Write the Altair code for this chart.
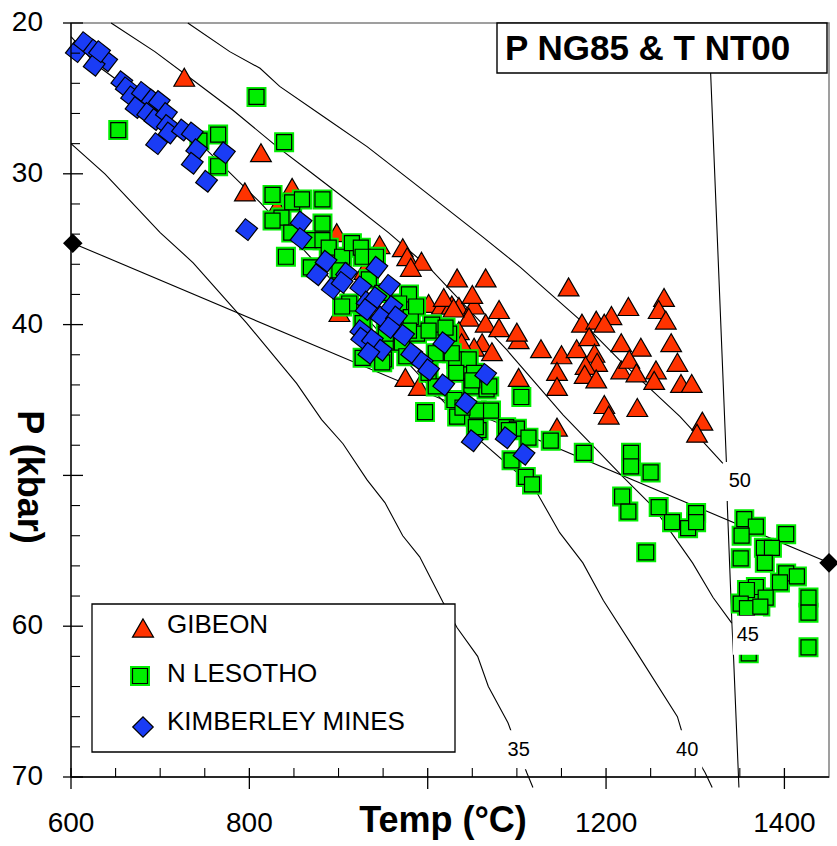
import altair as alt
import pandas as pd

FONT = "Liberation Sans"

# ---------------- data ----------------
gibeon_T = [727, 813, 795, 848, 831, 898, 946, 972, 977, 993, 981, 929, 901, 1001, 1016, 1027,
            1035, 1052, 1046, 1065, 1080, 1080, 1061, 1052, 1072, 1102, 1035, 975, 990, 1102,
            1033, 1065, 1158, 1018, 1050, 1029, 1100, 1127, 1150, 1167, 1173, 1189, 1206, 1198,
            1181, 1187, 1190, 1177, 1217, 1145, 1145, 1176, 1189, 1217, 1145, 1198, 1203, 1225,
            1265, 1259, 1267, 1239, 1226, 1256, 1254, 1273, 1280, 1284, 1296, 1234, 1235, 1308,
            1302, 941, 1038]
gibeon_P = [23.6, 28.6, 31.2, 30.9, 32.2, 33.9, 34.7, 34.9, 35.5, 35.8, 36.2, 36.4, 39.2, 38.6,
            38.7, 38.7, 38.8, 38.7, 39.5, 39.9, 39.0, 40.2, 41.2, 41.5, 41.8, 41.0, 40.4, 43.5,
            44.1, 43.5, 36.9, 36.9, 37.5, 38.2, 38.0, 38.9, 40.5, 41.6, 42.0, 41.6, 39.9, 39.7,
            39.4, 39.9, 40.8, 41.9, 42.5, 42.7, 41.2, 43.1, 44.1, 43.3, 43.6, 43.0, 46.8, 45.3,
            46.0, 38.8, 38.2, 39.0, 39.7, 41.5, 42.3, 43.0, 43.7, 41.2, 42.5, 43.9, 43.9, 43.2,
            45.5, 46.4, 47.2, 41.1, 41.2]

lesotho_T = [653, 744, 765, 765, 808, 839, 826, 848, 859, 882, 836, 826, 847, 867, 882, 882, 841,
             869, 889, 904, 915, 925, 927, 942, 901, 912, 904, 934, 949, 979, 968, 981, 988, 971,
             953, 951, 927, 927, 953, 949, 976, 979, 987, 1005, 1024, 1009, 1032, 1046, 1052, 1001,
             1009, 1032, 1049, 1066, 1030, 1033, 1055, 1071, 997, 1057, 1088, 1100, 1105, 1094,
             1110, 1001, 1020, 1027, 1050, 1069, 1039, 1054, 1091, 1138, 1175, 1228, 1228, 1250,
             1218, 1225, 1259, 1274, 1292, 1301, 1301, 1245, 1117, 1113, 1355, 1368, 1352, 1351,
             1402, 1377, 1386, 1378, 1402, 1414, 1395, 1368, 1358, 1379, 1351, 1358, 1373, 1427,
             1427, 1427, 1360]
lesotho_P = [27.1, 27.8, 27.4, 29.5, 24.9, 27.9, 31.4, 31.9, 31.7, 31.7, 32.9, 33.1, 33.9, 34.4,
             33.3, 34.4, 35.5, 36.2, 34.9, 35.5, 34.6, 34.9, 35.5, 35.5, 36.4, 38.6, 38.8, 37.0,
             37.9, 38.0, 38.6, 39.5, 40.6, 41.2, 41.2, 42.3, 42.2, 39.9, 40.6, 42.5, 42.1, 40.4,
             38.8, 40.0, 40.6, 41.9, 42.3, 42.3, 43.2, 43.2, 44.1, 43.2, 44.1, 44.3, 45.0, 46.1,
             45.7, 45.7, 45.8, 47.0, 46.8, 46.9, 44.8, 49.0, 50.1, 40.4, 40.2, 41.9, 43.7, 44.1,
             45.5, 46.8, 47.0, 47.7, 48.5, 48.5, 49.4, 49.8, 51.4, 52.4, 52.1, 53.1, 53.5, 52.5,
             53.1, 55.1, 50.6, 47.5, 52.9, 53.4, 54.0, 55.5, 53.9, 54.8, 54.8, 55.8, 56.5, 56.7,
             57.1, 57.4, 57.6, 58.1, 58.5, 58.8, 58.7, 58.1, 59.1, 61.4, 61.8]

kimberley_T = [606, 615, 626, 640, 626, 632, 657, 662, 668, 680, 673, 691, 699, 686, 694, 707,
               708, 710, 696, 725, 736, 741, 736, 752, 772, 797, 858, 858, 886, 876, 909, 893,
               904, 925, 943, 957, 932, 942, 948, 931, 960, 965, 957, 973, 925, 926, 938, 948,
               934, 982, 994, 1001, 1018, 1018, 1065, 1043, 1050, 1088, 1108]
kimberley_P = [21.9, 21.3, 21.8, 22.5, 22.8, 21.9, 23.9, 24.3, 24.9, 24.6, 25.6, 25.1, 25.2, 26.0,
               26.4, 26.0, 26.8, 27.3, 28.0, 27.1, 27.3, 28.4, 29.3, 30.5, 28.6, 33.7, 33.2, 34.3,
               35.8, 36.7, 36.6, 37.6, 37.2, 37.5, 36.2, 37.4, 38.5, 38.2, 39.5, 39.0, 38.8, 39.5,
               40.2, 40.7, 40.4, 40.9, 41.0, 41.7, 41.9, 41.9, 42.5, 43.0, 41.2, 44.0, 43.3, 45.2,
               47.7, 47.5, 48.6]

# isopleths and reference lines
iso50_T = [731, 778, 812, 834, 883, 932, 980, 1062, 1104, 1171, 1216, 1283, 1331]
iso50_P = [20.0, 21.9, 23.0, 24.2, 26.2, 28.2, 30.4, 34.2, 36.2, 39.7, 42.4, 46.1, 49.2]
iso45_T = [645, 694, 737, 782, 831, 871, 913, 956, 1003, 1089, 1152, 1219, 1253, 1297, 1320, 1341]
iso45_P = [20.0, 21.9, 23.8, 25.8, 28.2, 30.0, 31.9, 33.9, 36.3, 41.7, 46.0, 50.1, 52.1, 55.8, 58.1, 59.8]
iso40_T = [600, 629, 689, 745, 812, 1055, 1100, 1123, 1148, 1174, 1197, 1235, 1280, 1286, 1311, 1319]
iso40_P = [20.9, 22.8, 25.4, 28.0, 31.9, 47.5, 49.8, 51.2, 53.8, 55.8, 58.3, 61.8, 66.0, 67.2, 69.7, 70.7]
iso35_T = [600, 638, 700, 737, 797, 853, 881, 905, 932, 952, 972, 991, 1017, 1033, 1056, 1068,
           1090, 1095, 1111, 1118]
iso35_P = [28.0, 30.0, 33.9, 35.9, 39.9, 43.9, 46.3, 47.9, 50.3, 51.8, 54.0, 55.4, 58.4, 60.1,
           62.0, 64.0, 66.4, 67.2, 69.7, 70.7]
vert_T = [1315, 1335, 1336, 1341, 1343, 1349]
vert_P = [20.0, 49.2, 52.0, 59.6, 62.1, 70.7]
tie_T = [602, 1450]
tie_P = [34.6, 55.8]

iso_label_text = ["50", "45", "35", "40"]
iso_label_T = [1350, 1359, 1102, 1291]
iso_label_P = [50.4, 60.6, 68.2, 68.2]

x_major = [600, 800, 1000, 1200, 1400]
x_major_labels = ["600", "800", "", "1200", "1400"]   # 1000 is hidden under the axis title
x_minor = [650, 700, 750, 850, 900, 950, 1050, 1100, 1150, 1250, 1300, 1350]
y_major = [20, 30, 40, 50, 60, 70]
y_major_labels = ["20", "30", "40", "", "60", "70"]    # 50 is hidden under the axis title
y_minor = [22, 24, 26, 28, 32, 34, 36, 38, 42, 44, 46, 48, 52, 54, 56, 58, 62, 64, 66, 68]

legend_labels = ["GIBEON", "N LESOTHO", "KIMBERLEY MINES"]
title_text = "P NG85 & T NT00"
x_title = "Temp (°C)"
y_title = "P (kbar)"

# ---------------- colours / styles ----------------
RED = "#ff3300"
GREEN = "#00ee00"
BLUE = "#1a3cf5"
W, H = 758, 754

XS = alt.Scale(domain=[600, 1450], nice=False, zero=False)
YS = alt.Scale(domain=[20, 70], reverse=True, nice=False, zero=False)


def xq(field="T"):
    return alt.X(f"{field}:Q", scale=XS, axis=None)


def yq(field="P"):
    return alt.Y(f"{field}:Q", scale=YS, axis=None)


# line table
rows = []
for name, (ts, ps) in {"50": (iso50_T, iso50_P), "45": (iso45_T, iso45_P),
                       "40": (iso40_T, iso40_P), "35": (iso35_T, iso35_P),
                       "v": (vert_T, vert_P), "tie": (tie_T, tie_P)}.items():
    for i, (t, p) in enumerate(zip(ts, ps)):
        rows.append({"T": t, "P": p, "line": name, "ord": i})
lines_df = pd.DataFrame(rows)

gib = pd.DataFrame({"T": gibeon_T, "P": gibeon_P})
les = pd.DataFrame({"T": lesotho_T, "P": lesotho_P})
kim = pd.DataFrame({"T": kimberley_T, "P": kimberley_P})
tie = pd.DataFrame({"T": tie_T, "P": tie_P})
labs = pd.DataFrame({"T": iso_label_T, "P": iso_label_P, "txt": iso_label_text})

lines = alt.Chart(lines_df).mark_line(color="black", strokeWidth=1.1).encode(
    x=xq(), y=yq(), detail="line:N", order="ord:Q")

tie_pts = alt.Chart(tie).mark_point(shape="diamond", filled=True, fill="black",
                                    stroke="black", size=280, opacity=1).encode(x=xq(), y=yq())

tri = alt.Chart(gib).mark_point(shape="triangle-up", filled=True, fill=RED, stroke="black",
                                strokeWidth=1.2, size=430, opacity=1).encode(x=xq(), y=yq())

sqA = alt.Chart(les).mark_point(shape="square", filled=True, fill=GREEN, stroke=GREEN,
                                strokeWidth=4, size=256, opacity=1).encode(x=xq(), y=yq())
sqB = alt.Chart(les).mark_point(shape="square", filled=True, fill=GREEN, stroke="black",
                                strokeWidth=1.2, size=225, opacity=1).encode(x=xq(), y=yq())

dia = alt.Chart(kim).mark_point(shape="square", angle=38, filled=True, fill=BLUE,
                                stroke="black", strokeWidth=1.2, size=240,
                                opacity=1).encode(x=xq(), y=yq())

lab_bg = alt.Chart(labs).mark_point(shape="M-1,-1.3L1,-1.3L1,1.3L-1,1.3Z", filled=True,
                                    fill="white", stroke="white", strokeWidth=0, size=900,
                                    opacity=1).encode(x=xq(), y=yq())
lab_txt = alt.Chart(labs).mark_text(font=FONT, fontSize=20, color="black", align="center",
                                    baseline="middle").encode(x=xq(), y=yq(), text="txt:N")

one = pd.DataFrame({"a": [0]})

# axes drawn by hand: domain lines, ticks, labels, titles
ax_left = alt.Chart(one).mark_rule(color="black", strokeWidth=1.3).encode(
    x=alt.value(0), y=alt.value(0), y2=alt.value(H))
ax_bottom = alt.Chart(one).mark_rule(color="black", strokeWidth=1.3).encode(
    x=alt.value(0), x2=alt.value(W), y=alt.value(H))
ymaj = alt.Chart(pd.DataFrame({"v": y_major})).mark_rule(color="black", strokeWidth=1.3).encode(
    y=yq("v"), x=alt.value(-8), x2=alt.value(12))
ymin = alt.Chart(pd.DataFrame({"v": y_minor})).mark_rule(color="black", strokeWidth=1.1).encode(
    y=yq("v"), x=alt.value(0), x2=alt.value(9))
xmaj = alt.Chart(pd.DataFrame({"v": x_major})).mark_rule(color="black", strokeWidth=1.3).encode(
    x=xq("v"), y=alt.value(H - 9), y2=alt.value(H + 12))
xmin = alt.Chart(pd.DataFrame({"v": x_minor})).mark_rule(color="black", strokeWidth=1.1).encode(
    x=xq("v"), y=alt.value(H - 9), y2=alt.value(H))
ylab = alt.Chart(pd.DataFrame({"v": y_major, "t": y_major_labels})).mark_text(
    font=FONT, fontSize=28, color="black", align="right", baseline="middle").encode(
    y=yq("v"), x=alt.value(-28), text="t:N")
xlab = alt.Chart(pd.DataFrame({"v": x_major, "t": x_major_labels})).mark_text(
    font=FONT, fontSize=28, color="black", align="center", baseline="alphabetic").encode(
    x=xq("v"), y=alt.value(H + 55), text="t:N")
xtit = alt.Chart(one).mark_text(font=FONT, fontSize=36, fontWeight="bold", color="black",
                                align="center", baseline="alphabetic", text=x_title).encode(
    x=alt.value(372), y=alt.value(H + 55))
ytit = alt.Chart(one).mark_text(font=FONT, fontSize=36, fontWeight="bold", color="black",
                                align="center", baseline="alphabetic", angle=90,
                                text=y_title).encode(x=alt.value(-53), y=alt.value(454))

# legend
leg_box = alt.Chart(one).mark_rect(fill="white", stroke="black", strokeWidth=1.3).encode(
    x=alt.value(21), x2=alt.value(384), y=alt.value(581), y2=alt.value(729))
leg_layers = [leg_box]
sym_y = [605, 653, 704]
sym_x = [72, 69, 72]
txt_y = [610, 659, 707]
leg_layers.append(alt.Chart(one).mark_point(shape="triangle-up", filled=True, fill=RED,
                                            stroke="black", strokeWidth=1.2, size=440,
                                            opacity=1).encode(x=alt.value(sym_x[0]), y=alt.value(sym_y[0])))
leg_layers.append(alt.Chart(one).mark_point(shape="square", filled=True, fill=GREEN,
                                            stroke=GREEN, strokeWidth=4, size=256,
                                            opacity=1).encode(x=alt.value(sym_x[1]), y=alt.value(sym_y[1])))
leg_layers.append(alt.Chart(one).mark_point(shape="square", filled=True, fill=GREEN,
                                            stroke="black", strokeWidth=1.2, size=225,
                                            opacity=1).encode(x=alt.value(sym_x[1]), y=alt.value(sym_y[1])))
leg_layers.append(alt.Chart(one).mark_point(shape="diamond", filled=True, fill=BLUE,
                                            stroke="black", strokeWidth=1.2, size=420,
                                            opacity=1).encode(x=alt.value(sym_x[2]), y=alt.value(sym_y[2])))
for lab, ty in zip(legend_labels, txt_y):
    leg_layers.append(alt.Chart(one).mark_text(font=FONT, fontSize=26, color="black",
                                               align="left", baseline="alphabetic",
                                               text=lab).encode(x=alt.value(96), y=alt.value(ty)))

# title box
title_box = alt.Chart(one).mark_rect(fill="white", stroke="black", strokeWidth=1.4).encode(
    x=alt.value(426), x2=alt.value(756), y=alt.value(0), y2=alt.value(50))
title_txt = alt.Chart(one).mark_text(font=FONT, fontSize=35, fontWeight="bold", color="black",
                                     align="left", baseline="alphabetic",
                                     text=title_text).encode(x=alt.value(434), y=alt.value(37))

chart = alt.layer(
    lines, tie_pts, tri, sqA, sqB, dia, lab_bg, lab_txt,
    ax_left, ax_bottom, ymaj, ymin, xmaj, xmin, ylab, xlab, xtit, ytit,
    *leg_layers, title_box, title_txt
).properties(
    width=W, height=H,
    autosize=alt.AutoSizeParams(type="none"),
    padding={"left": 71, "top": 23, "right": 8, "bottom": 69},
).configure_view(stroke="#808080", strokeWidth=1.5)

chart.save("out.html", embed_options={"renderer": "svg", "actions": False})
